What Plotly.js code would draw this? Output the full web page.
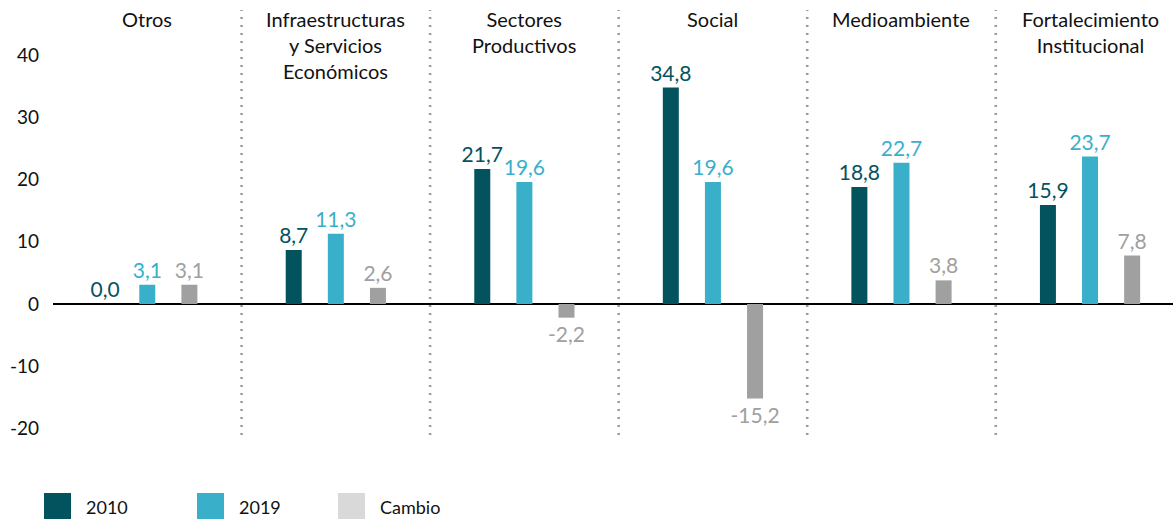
<!DOCTYPE html>
<html>
<head>
<meta charset="utf-8">
<script src="https://cdn.plot.ly/plotly-3.0.1.min.js"></script>
<style>
html,body{margin:0;padding:0;background:#fff;}
#chart{width:1173px;height:519px;}
</style>
</head>
<body>
<div id="chart"></div>
<script>
// categorias y valores (%)
var categorias = ['Otros', 'Infraestructuras<br>y Servicios<br>Económicos', 'Sectores<br>Productivos', 'Social', 'Medioambiente', 'Fortalecimiento<br>Institucional'];
var y2010 = [0.0, 8.7, 21.7, 34.8, 18.8, 15.9];
var y2019 = [3.1, 11.3, 19.6, 19.6, 22.7, 23.7];
var cambio = [3.1, 2.6, -2.2, -15.2, 3.8, 7.8];
var series = ['2010', '2019', 'Cambio'];
var colores = ['#03535f', '#3aafc9', '#a0a0a0'];
var coloresLeyenda = ['#03535f', '#3aafc9', '#d9d9d9'];
var yticks = [-20, -10, 0, 10, 20, 30, 40];

function fmt(v) { return v.toFixed(1).replace('.', ','); }

var valores = [y2010, y2019, cambio];
var data = valores.map(function (vals, i) {
  return {
    x: categorias,
    y: vals,
    name: series[i],
    type: 'bar',
    marker: {color: colores[i]},
    text: vals.map(fmt),
    textposition: 'outside',
    constraintext: 'none',
    cliponaxis: false,
    textfont: {family: 'Lato', size: 21, color: colores[i]},
    hoverinfo: 'x+y'
  };
});

var L = 53, W = 1120, T = 10, H = 425;
function px2x(p) { return (p - L) / W; }
function px2y(p) { return (T + H - p) / H; }

// separadores punteados entre grupos
var shapes = [];
for (var k = 0; k < categorias.length - 1; k++) {
  shapes.push({type: 'line', xref: 'x', yref: 'paper', x0: k + 0.5, x1: k + 0.5, y0: 0, y1: 1,
    line: {color: '#9a9a9a', width: 2.5, dash: '2px,6px'}, layer: 'below'});
}

// etiquetas de categoria arriba
var annotations = categorias.map(function (c) {
  return {x: c, xref: 'x', y: 1, yref: 'paper', yanchor: 'top', xanchor: 'center', showarrow: false,
    yshift: 5, text: c, font: {family: 'Lato', size: 20, color: '#111'}};
});

// leyenda manual
var legX = [44, 197, 338];
series.forEach(function (s, i) {
  shapes.push({type: 'rect', xref: 'paper', yref: 'paper',
    x0: px2x(legX[i]), x1: px2x(legX[i] + 27), y0: px2y(493), y1: px2y(520),
    fillcolor: coloresLeyenda[i], line: {width: 0}});
  annotations.push({xref: 'paper', yref: 'paper', x: px2x(legX[i] + 40), y: px2y(507),
    xanchor: 'left', yanchor: 'middle', showarrow: false, text: s,
    font: {family: 'Lato', size: 18, color: '#111'}});
});

var layout = {
  width: 1173, height: 519,
  margin: {l: L, r: 0, t: T, b: 519 - T - H},
  paper_bgcolor: '#fff', plot_bgcolor: '#fff',
  font: {family: 'Lato', size: 18, color: '#111'},
  barmode: 'group',
  bargap: 0.33,
  bargroupgap: 0.62,
  showlegend: false,
  xaxis: {range: [-0.5, 5.44], showticklabels: false, showgrid: false, zeroline: false, showline: false, ticks: ''},
  yaxis: {range: [-21.06, 47.27], tickvals: yticks, ticktext: yticks.map(String), showgrid: false,
    zeroline: true, zerolinecolor: '#000', zerolinewidth: 2, showline: false, ticks: '',
    ticklabelstandoff: 13, tickfont: {family: 'Lato', size: 19, color: '#111'}},
  shapes: shapes,
  annotations: annotations
};

Plotly.newPlot('chart', data, layout, {displayModeBar: false});
</script>
</body>
</html>
